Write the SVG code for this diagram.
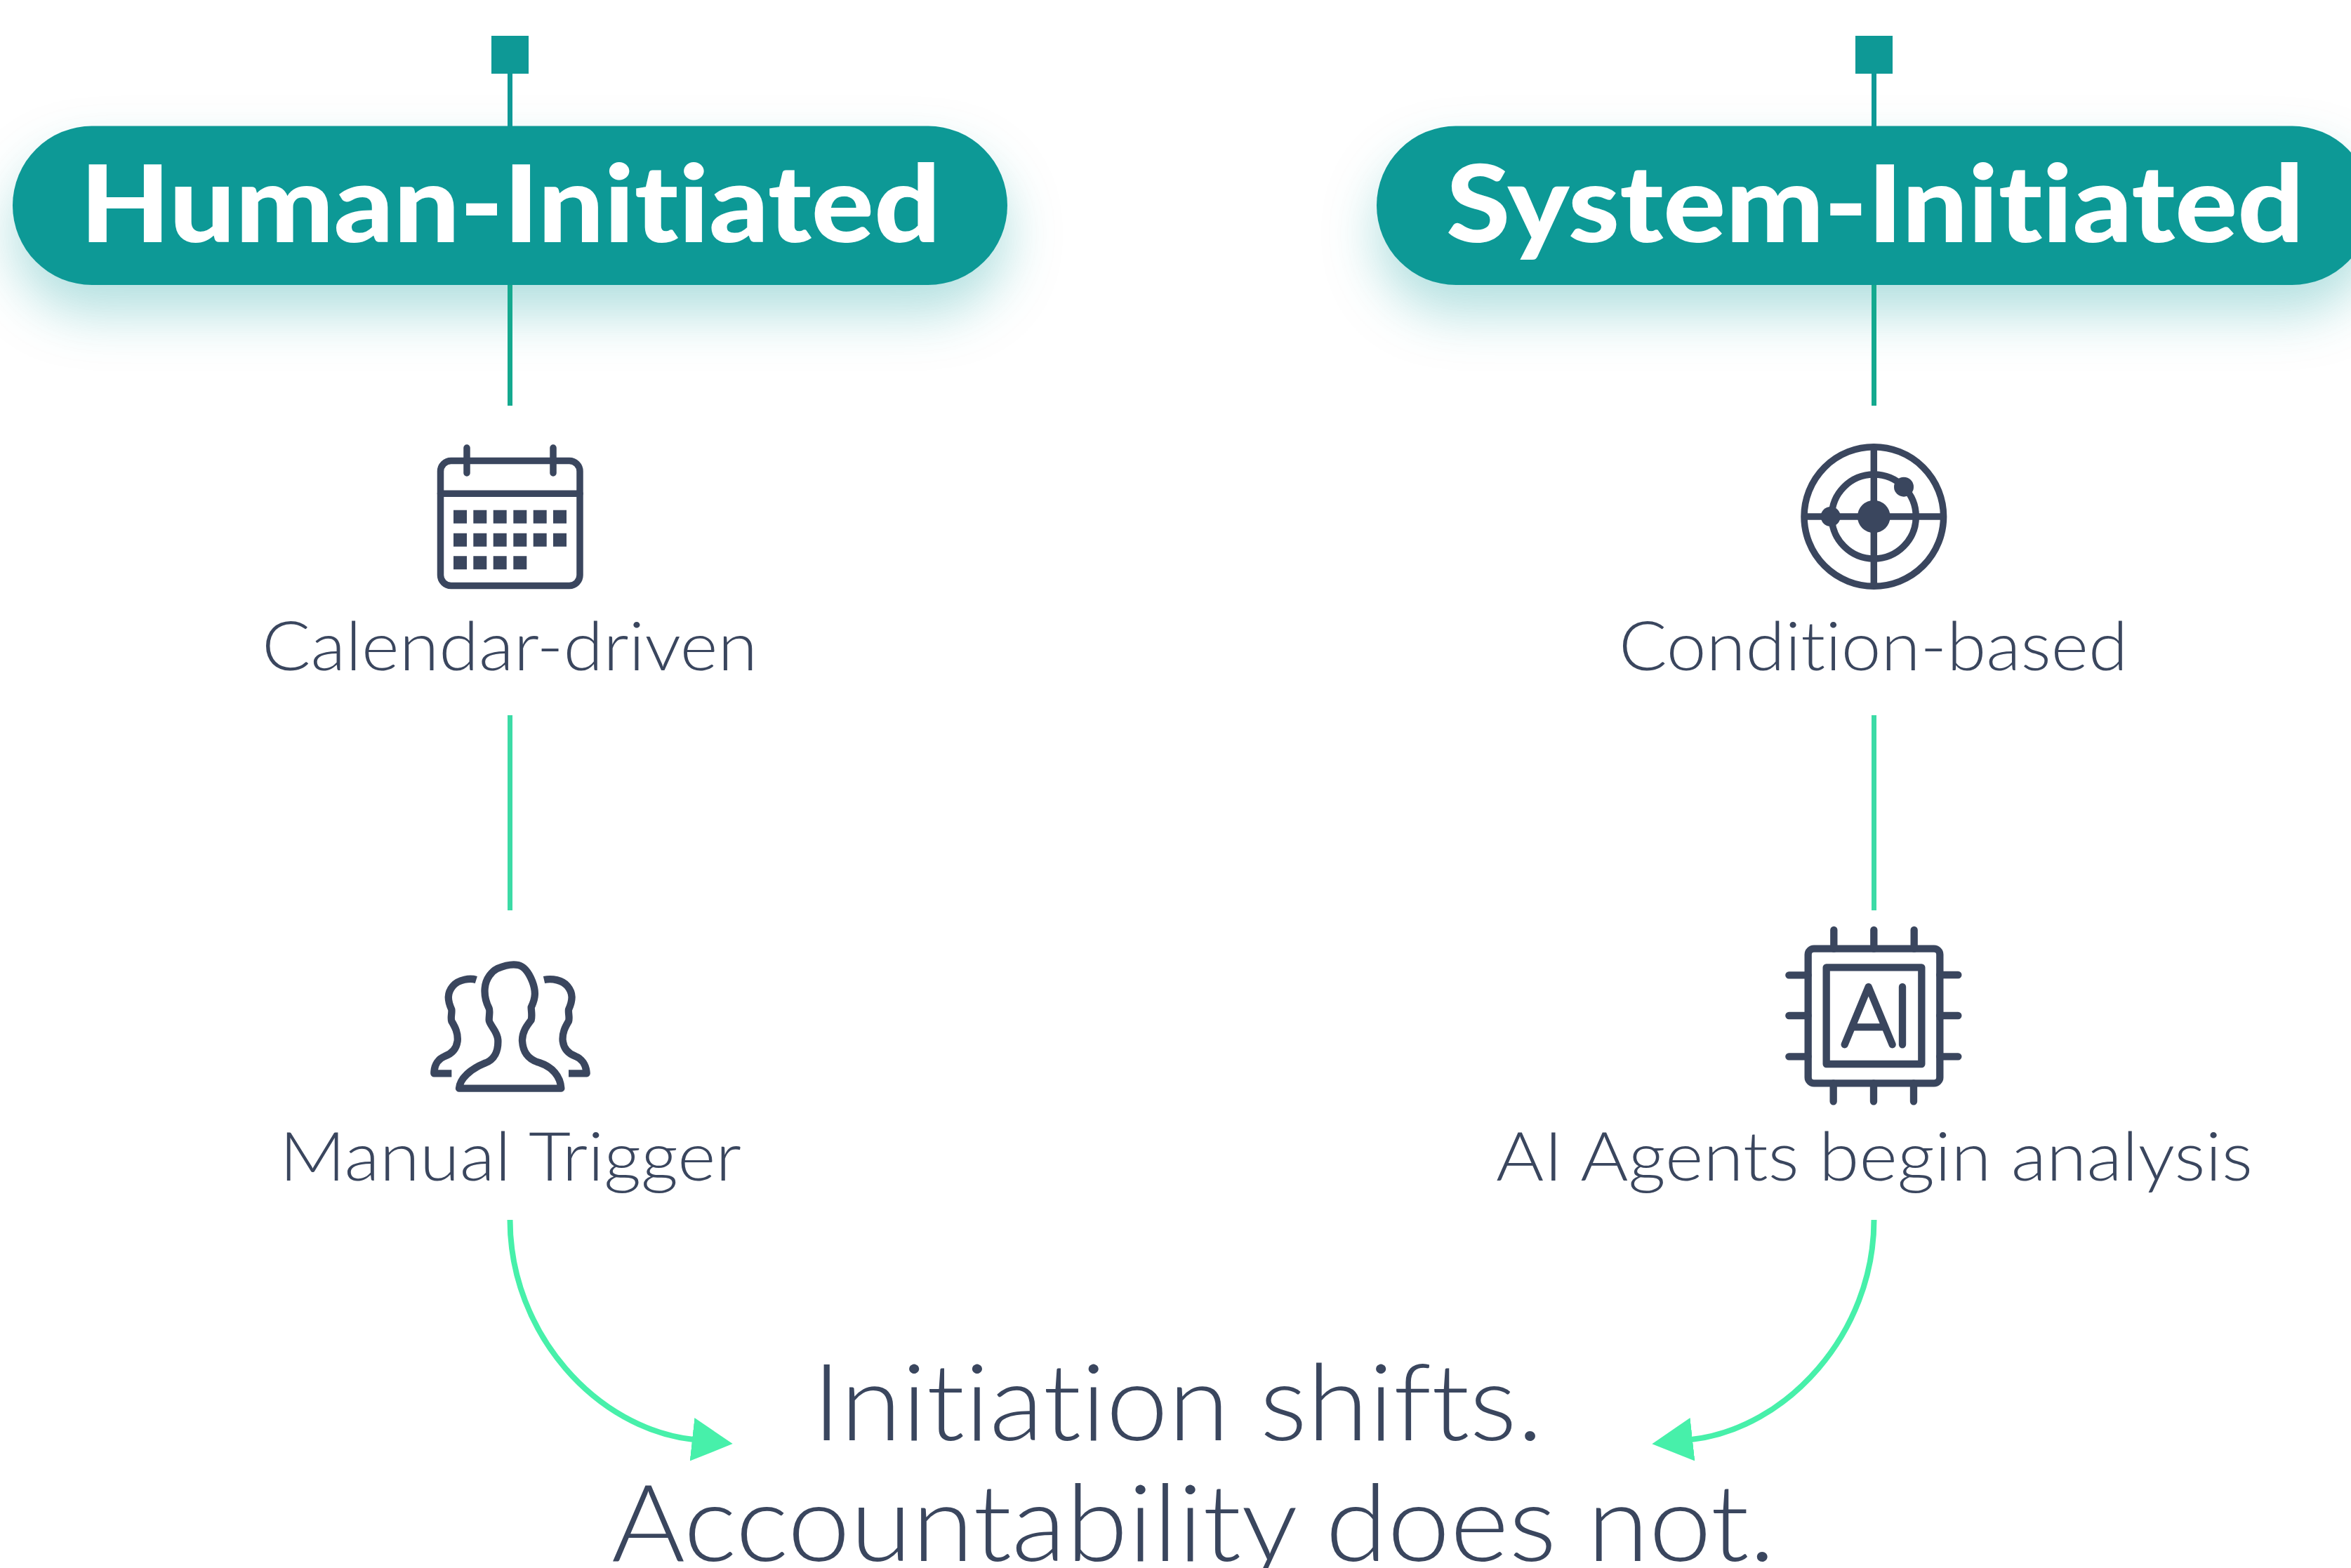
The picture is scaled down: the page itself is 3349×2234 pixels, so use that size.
<svg xmlns="http://www.w3.org/2000/svg" width="3349" height="2234" viewBox="0 0 3349 2234">
<style>
text{font-variant-ligatures:none}
.pill{fill:#0e9996;filter:url(#sh)}
.head{font-family:"Lato","Noto Sans",sans-serif;font-weight:900;font-size:152px;fill:#fff}
.lab{font-family:"Lato","Noto Sans",sans-serif;font-weight:300;font-size:96px;fill:#3a465e}
.big{font-family:"Lato","Noto Sans",sans-serif;font-weight:300;font-size:152px;fill:#3a465e}
.ic{fill:none;stroke:#3a465e;stroke-width:9.5;stroke-linecap:round;stroke-linejoin:round}
.ic3{fill:none;stroke:#3a465e;stroke-width:31;stroke-linecap:round;stroke-linejoin:round}
.dk{fill:#3a465e}
.t1{stroke:#0e9996;stroke-width:7;fill:none}
.t2{stroke:#14a98f;stroke-width:7;fill:none}
.t3{stroke:#3cdba6;stroke-width:7;fill:none}
.t4{stroke:#47f0aa;stroke-width:8;fill:none;marker-end:url(#ah)}
.sq{fill:#0e9996}
</style>
<defs>
<filter id="sh" x="-20%" y="-60%" width="140%" height="280%"><feDropShadow dx="0" dy="40" stdDeviation="38" flood-color="#0e9996" flood-opacity="0.3"/></filter>
<marker id="ah" markerUnits="userSpaceOnUse" markerWidth="60" markerHeight="66" refX="2" refY="33" orient="auto"><path d="M0 2L58 33L0 64Z" fill="#47f0aa"/></marker>
</defs>
<rect width="3349" height="2234" fill="#fff"/>
<g id="node-human-initiated"><rect class="pill" x="18" y="179.500" width="1417" height="226.500" rx="113.250"/><text class="head" x="114" y="345" textLength="1226" lengthAdjust="spacingAndGlyphs">Human-Initiated</text></g>
<g id="node-system-initiated"><rect class="pill" x="1961" y="179.500" width="1417" height="226.500" rx="113.250"/><text class="head" x="2060" y="345" textLength="1222" lengthAdjust="spacingAndGlyphs">System-Initiated</text></g>
<g id="connectors">
<rect class="sq" x="700" y="51" width="53" height="54"/><rect class="sq" x="2643" y="51" width="53" height="54"/>
<path class="t1" d="M726.500 105V180M2669.500 105V180"/>
<path class="t2" d="M726.500 406V578M2669.500 406V578"/>
<path class="t3" d="M726.500 1019V1297M2669.500 1019V1297"/>
<path class="t4" d="M726.500 1738C726.500 1900 850 2036 988 2051"/>
<path class="t4" d="M2669.500 1738C2669.500 1900 2545 2036 2409 2051"/>
</g>
<g id="node-calendar">
<rect class="ic" x="627.500" y="656.500" width="198.500" height="178" rx="15"/>
<path class="ic" d="M665 638V674M788 638V674M627.500 703.300H826"/>
<path class="dk" d="M646 726.700h19v19h-19zM674.300 726.700h19v19h-19zM702.700 726.700h19v19h-19zM731.300 726.700h19v19h-19zM759.700 726.700h19v19h-19zM788 726.700h19v19h-19zM646 759.700h19v19h-19zM674.300 759.700h19v19h-19zM702.700 759.700h19v19h-19zM731.300 759.700h19v19h-19zM759.700 759.700h19v19h-19zM788 759.700h19v19h-19zM646 792.300h19v19h-19zM674.300 792.300h19v19h-19zM702.700 792.300h19v19h-19zM731.300 792.300h19v19h-19z"/>
<text class="lab" x="373" y="955" textLength="706" lengthAdjust="spacingAndGlyphs">Calendar-driven</text>
</g>
<g id="node-condition">
<circle class="ic" cx="2669.300" cy="736" r="99.300"/><circle class="ic" cx="2669.300" cy="736" r="60"/>
<path class="ic" d="M2570 736H2768.600M2669.300 636.700V835.300" style="stroke-linecap:butt"/>
<circle class="dk" cx="2669.300" cy="736" r="23.300"/><circle class="dk" cx="2607.700" cy="736" r="14"/><circle class="dk" cx="2712" cy="693.700" r="14"/>
<text class="lab" x="2306" y="955" textLength="725" lengthAdjust="spacingAndGlyphs">Condition-based</text>
</g>
<g id="node-manual">
<g transform="translate(580 1340) scale(.33333)">
<path class="ic3" d="M222 632C225 590 270 550 330 525C375 510 390 470 388 425C385 385 350 360 350 340C350 320 355 300 350 290C335 260 330 230 332 205C335 160 365 130 385 120C420 105 450 100 475 105C505 112 525 150 535 175C550 215 550 245 530 285C530 300 535 320 530 340C515 360 490 390 492 430C495 480 520 510 565 522C620 540 655 580 658 632Z"/>
<path class="ic3" style="stroke-linecap:butt" d="M295 168C270 160 220 165 195 195C170 225 172 255 190 295C192 310 185 330 190 345C205 370 218 395 215 430C210 465 190 485 160 495C135 505 115 530 115 568H190"/>
<path class="ic3" style="stroke-linecap:butt" d="M585 168C620 160 665 170 685 195C710 225 708 255 690 295C688 310 695 330 690 345C675 370 662 395 665 430C670 465 690 485 720 495C745 505 765 530 767 568H690"/>
</g>
<text class="lab" x="398" y="1682" textLength="658" lengthAdjust="spacingAndGlyphs">Manual Trigger</text>
</g>
<g id="node-ai">
<g transform="translate(2520 1300) scale(.33333)">
<rect class="ic3" x="167" y="155" width="563" height="575" rx="25"/>
<rect class="ic3" x="245" y="235" width="407" height="413"/>
<path class="ic3" d="M277 75V155M448 75V155M620 75V155M275 730V808M447 730V808M618 730V808M85 268H167M85 441H167M85 616H167M730 267H808M730 441H808M730 616H808"/>
<path class="ic3" d="M323 565L425 318L527 565M370 490H490M570 318V565"/>
</g>
<text class="lab" x="2131" y="1682" textLength="1078" lengthAdjust="spacingAndGlyphs">AI Agents begin analysis</text>
</g>
<g id="node-caption">
<text class="big" x="1157" y="2052" textLength="1041" lengthAdjust="spacingAndGlyphs">Initiation shifts.</text>
<text class="big" x="871" y="2224" textLength="1658" lengthAdjust="spacingAndGlyphs">Accountability does not.</text>
</g>
</svg>
